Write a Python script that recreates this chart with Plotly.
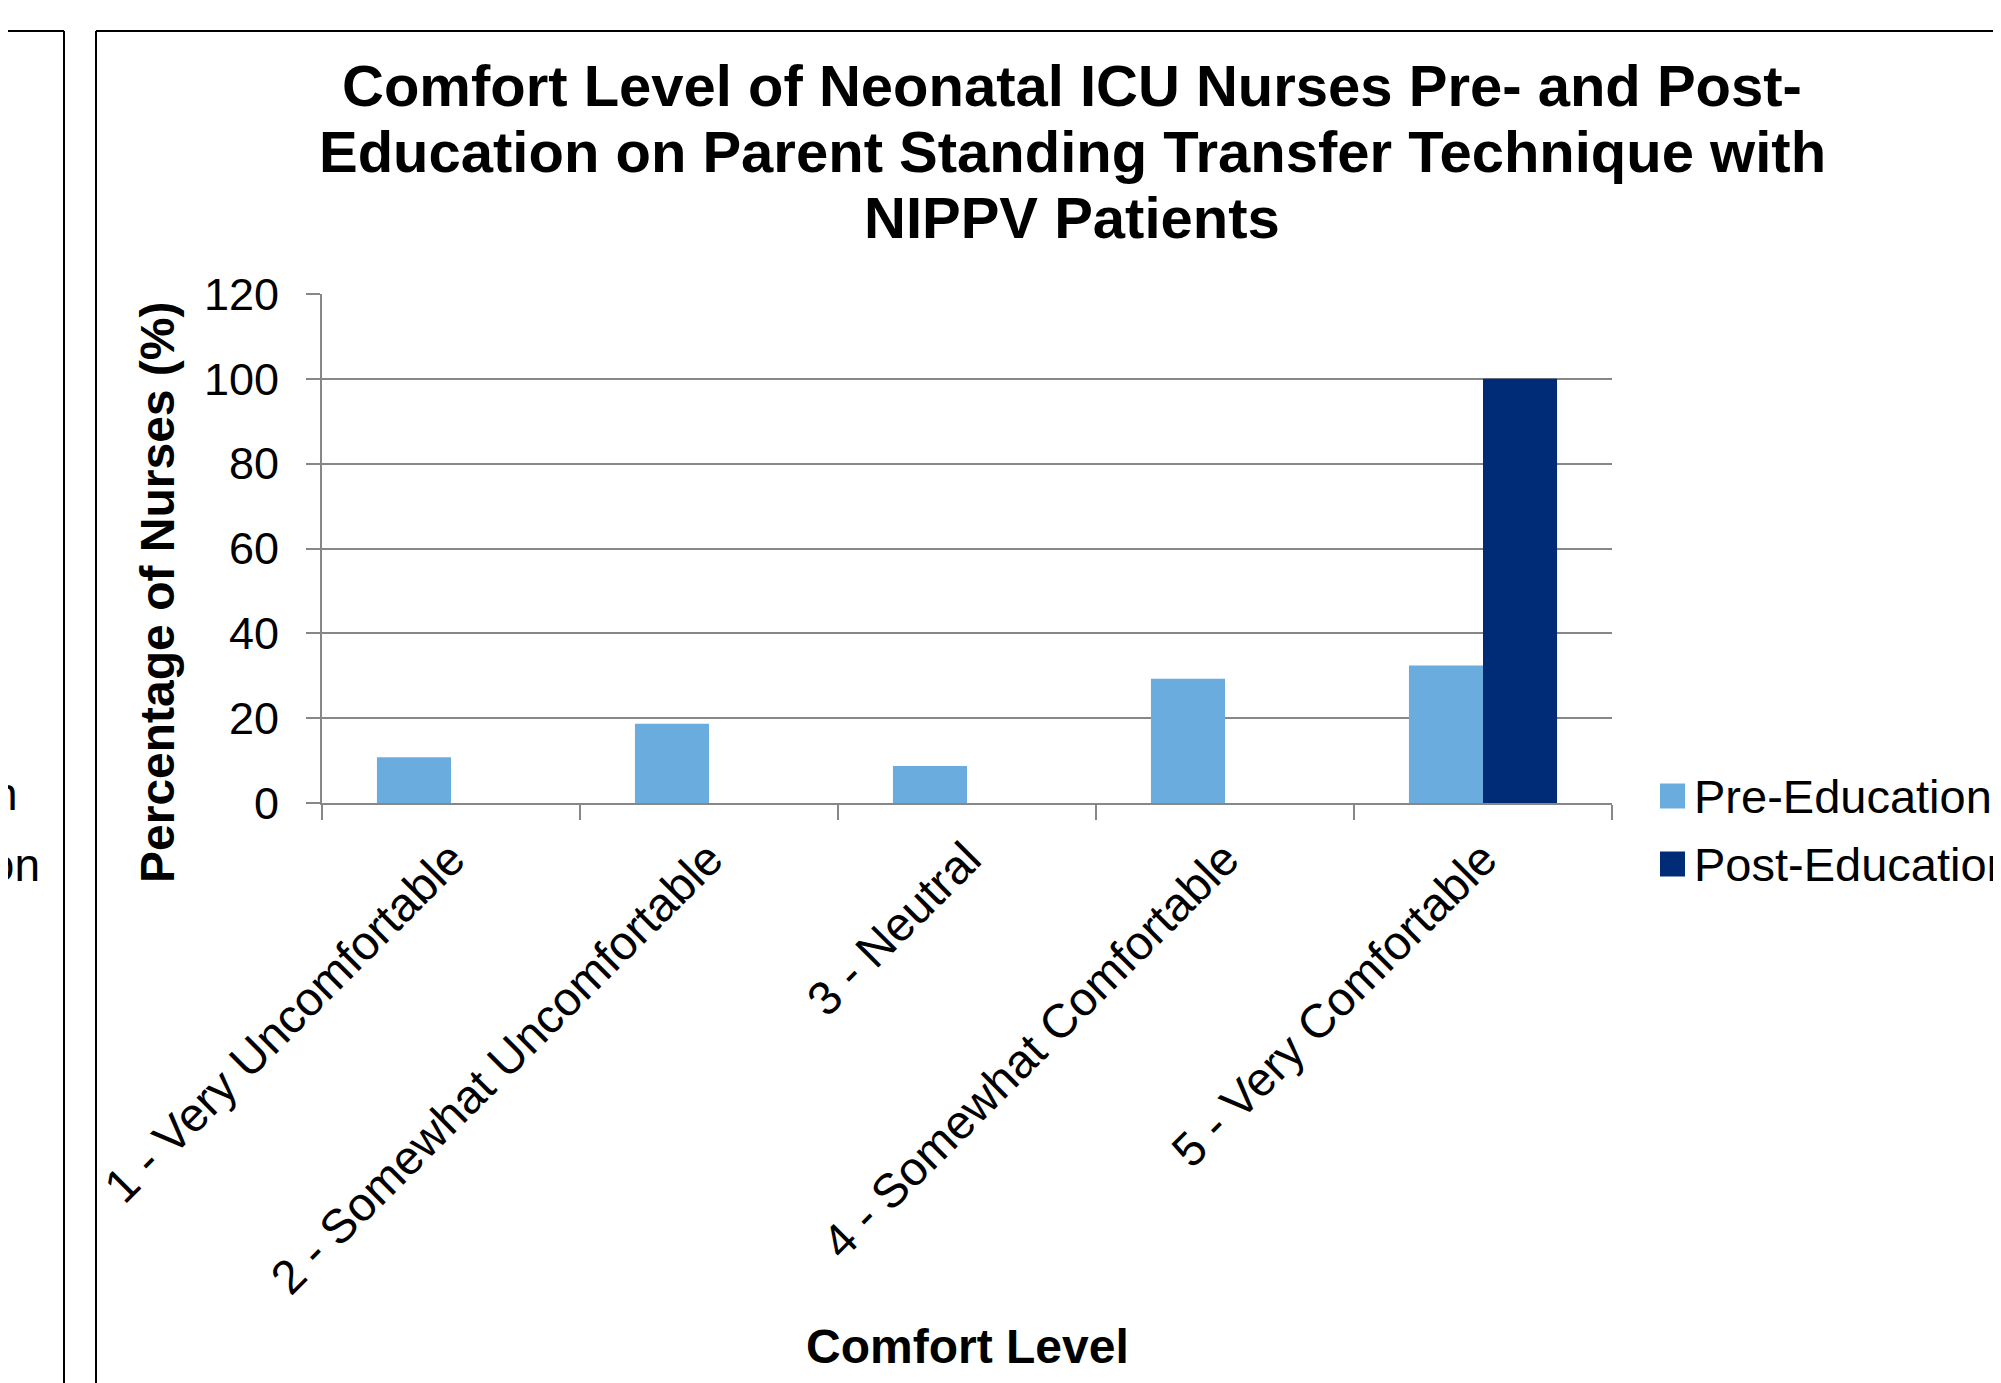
import plotly.graph_objects as go

categories = ["1 - Very Uncomfortable", "2 - Somewhat Uncomfortable", "3 - Neutral",
              "4 - Somewhat Comfortable", "5 - Very Comfortable"]
series_names = ["Pre-Education", "Post-Education"]
pre_values = [10.8, 18.7, 8.7, 29.3, 32.4]
post_values = [0, 0, 0, 0, 100]
colors = ["#6AACDE", "#002C77"]
y_ticks = [0, 20, 40, 60, 80, 100, 120]
title_lines = ["Comfort Level of Neonatal ICU Nurses Pre- and Post-",
               "Education on Parent Standing Transfer Technique with",
               "NIPPV Patients"]

OFF = 8  # browser body margin
W, H = 2001 - OFF, 1383 - OFF
# plot area in page pixels
L, R, T, B = 322, 1612, 294, 803
FONT = "Liberation Sans, Arial, sans-serif"


def px(x):
    return (x - L) / (R - L)


def py(y):
    return (B - y) / (B - T)


fig = go.Figure()
fig.add_trace(go.Bar(x=categories, y=pre_values, name=series_names[0],
                     marker=dict(color=colors[0], line=dict(width=0))))
fig.add_trace(go.Bar(x=categories, y=post_values, name=series_names[1],
                     marker=dict(color=colors[1], line=dict(width=0))))

annotations = []
# title lines
for txt, yc in zip(title_lines, [85.5, 151, 217]):
    annotations.append(dict(text=f"<b>{txt}</b>", x=px(1072), y=py(yc), xref="paper", yref="paper",
                            xanchor="center", yanchor="middle", showarrow=False,
                            font=dict(family=FONT, size=58, color="black")))
# y axis title
annotations.append(dict(text="<b>Percentage of Nurses (%)</b>", x=px(157), y=py(592),
                        xref="paper", yref="paper", xanchor="center", yanchor="middle",
                        textangle=-90, showarrow=False,
                        font=dict(family=FONT, size=48, color="black")))
# x axis title
annotations.append(dict(text="<b>Comfort Level</b>", x=px(967), y=py(1346),
                        xref="paper", yref="paper", xanchor="center", yanchor="middle",
                        showarrow=False, font=dict(family=FONT, size=48, color="black")))

shapes = []
# manual legend
for name, col, yc in zip(series_names, colors, [796, 864]):
    shapes.append(dict(type="rect", xref="paper", yref="paper",
                       x0=px(1660), x1=px(1685), y0=py(yc - 12.5), y1=py(yc + 12.5),
                       fillcolor=col, line=dict(width=0)))
    annotations.append(dict(text=name, x=px(1692), y=py(yc), xref="paper", yref="paper",
                            xanchor="left", yanchor="middle", showarrow=False,
                            font=dict(family=FONT, size=47, color="black")))

# cut-off legend text of neighbouring panel on the left
for name, xr, yc in zip(series_names, [20, 42], [794, 865]):
    annotations.append(dict(text=name, x=px(xr), y=py(yc), xref="paper", yref="paper",
                            xanchor="right", yanchor="middle", showarrow=False,
                            font=dict(family=FONT, size=46, color="black")))

# panel borders
border = dict(color="black", width=2)
shapes.append(dict(type="line", xref="paper", yref="paper", x0=px(96), x1=px(96),
                   y0=py(31), y1=py(1400), line=border))
shapes.append(dict(type="line", xref="paper", yref="paper", x0=px(96), x1=px(2010),
                   y0=py(31), y1=py(31), line=border))
shapes.append(dict(type="line", xref="paper", yref="paper", x0=px(64), x1=px(64),
                   y0=py(31), y1=py(1400), line=border))
shapes.append(dict(type="line", xref="paper", yref="paper", x0=px(-10), x1=px(64),
                   y0=py(31), y1=py(31), line=border))

fig.update_layout(
    width=W, height=H,
    margin=dict(l=L - OFF, r=(W + OFF) - R, t=T - OFF, b=(H + OFF) - B, pad=0),
    paper_bgcolor="white", plot_bgcolor="white",
    barmode="group", bargap=0.426, bargroupgap=0,
    showlegend=False,
    font=dict(family=FONT, color="black"),
    annotations=annotations, shapes=shapes,
    xaxis=dict(showline=True, linecolor="#878787", linewidth=2, ticks="outside",
               tickson="boundaries", ticklen=15, tickwidth=2, tickcolor="#878787",
               tickangle=-45, tickfont=dict(family=FONT, size=47.5, color="black"),
               showgrid=False, ticklabelstandoff=7),
    yaxis=dict(range=[0, 120], tickvals=y_ticks, showline=True, linecolor="#878787",
               linewidth=2, ticks="outside", ticklen=14, tickwidth=2, tickcolor="#878787",
               showgrid=True, gridcolor="#878787", gridwidth=2, zeroline=False,
               tickfont=dict(family=FONT, size=45, color="black"), ticklabelstandoff=18),
)

fig.write_html("out.html")
